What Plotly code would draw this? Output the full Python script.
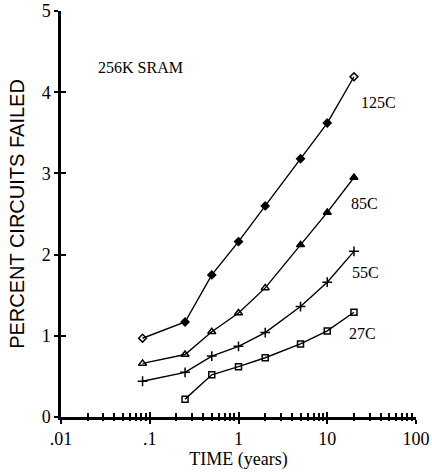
import math
import plotly.graph_objects as go

time_years = [0.083, 0.25, 0.5, 1, 2, 5, 10, 20]
fail_125c = [0.97, 1.17, 1.75, 2.16, 2.60, 3.18, 3.62, 4.19]
fail_85c = [0.66, 0.77, 1.05, 1.28, 1.59, 2.12, 2.52, 2.95]
fail_55c = [0.44, 0.55, 0.75, 0.87, 1.04, 1.36, 1.66, 2.04]
time_27c = [0.25, 0.5, 1, 2, 5, 10, 20]
fail_27c = [0.22, 0.52, 0.62, 0.73, 0.90, 1.06, 1.29]

xtick_vals = [0.01, 0.1, 1, 10, 100]
xtick_text = [".01", ".1", "1", "10", "100"]
ytick_vals = [0, 1, 2, 3, 4, 5]
minor_vals = [m * d for d in [0.01, 0.1, 1, 10] for m in range(2, 10)]

series_labels = ["125C", "85C", "55C", "27C"]
label_pos = [(22.5, 3.87), (17.6, 2.63), (18.0, 1.78), (16.7, 1.03)]

SERIF = "Liberation Serif, Times New Roman, serif"
SANS = "Liberation Sans, Arial, sans-serif"

fig = go.Figure()
line = dict(color="black", width=1.4)

fig.add_trace(go.Scatter(
    x=time_years, y=fail_125c, mode="lines+markers", line=line,
    marker=dict(symbol=["diamond-open"] + ["diamond"] * 6 + ["diamond-open"],
                size=6, color="black", line=dict(color="black", width=1.5)),
    showlegend=False))
fig.add_trace(go.Scatter(
    x=time_years, y=fail_85c, mode="lines+markers", line=line,
    marker=dict(symbol=["triangle-up-open"] * 5 + ["triangle-up"] * 3,
                size=7, color="black", line=dict(color="black", width=1.5)),
    showlegend=False))
fig.add_trace(go.Scatter(
    x=time_years, y=fail_55c, mode="lines+markers", line=line,
    marker=dict(symbol="cross-thin", size=7, color="black",
                line=dict(color="black", width=1.5)),
    showlegend=False))
fig.add_trace(go.Scatter(
    x=time_27c, y=fail_27c, mode="lines+markers", line=line,
    marker=dict(symbol="square-open", size=6, color="black",
                line=dict(color="black", width=1.5)),
    showlegend=False))

# invisible traces to activate overlay axes (crossing ticks)
for xa, ya in [("x2", "y2"), ("x3", "y"), ("x4", "y")]:
    fig.add_trace(go.Scatter(x=[1], y=[1], xaxis=xa, yaxis=ya, mode="markers",
                             marker=dict(opacity=0), showlegend=False, hoverinfo="skip"))

for lab, (lx, ly) in zip(series_labels, label_pos):
    fig.add_annotation(x=math.log10(lx), y=ly, text=lab, showarrow=False,
                       xanchor="left", yanchor="middle",
                       font=dict(family=SERIF, size=16, color="black"))

fig.add_annotation(x=math.log10(0.0248), y=4.31, text="256K SRAM", showarrow=False,
                   xanchor="left", yanchor="middle",
                   font=dict(family=SERIF, size=16, color="black"))

common_x = dict(type="log", range=[-2, 2], showgrid=False, zeroline=False,
                automargin=False, tickcolor="black")

fig.update_layout(
    width=432, height=474,
    margin=dict(l=61, r=16, t=11, b=57),
    paper_bgcolor="white", plot_bgcolor="white",
    xaxis=dict(**common_x, showline=True, linecolor="black", linewidth=2.5,
               ticks="outside", ticklen=4, tickwidth=2,
               tickvals=xtick_vals, ticktext=xtick_text,
               tickfont=dict(family=SERIF, size=18, color="black"),
               title=dict(text="TIME (years)", font=dict(family=SERIF, size=18, color="black"),
                          standoff=4)),
    xaxis2=dict(**common_x, overlaying="x", anchor="y", side="bottom", showline=False,
                ticks="inside", ticklen=5, tickwidth=2, tickvals=xtick_vals,
                showticklabels=False),
    xaxis3=dict(**common_x, overlaying="x", anchor="y", side="bottom", showline=False,
                ticks="outside", ticklen=3, tickwidth=1.5, tickvals=minor_vals,
                showticklabels=False),
    xaxis4=dict(**common_x, overlaying="x", anchor="y", side="bottom", showline=False,
                ticks="inside", ticklen=4, tickwidth=1.5, tickvals=minor_vals,
                showticklabels=False),
    yaxis=dict(range=[0, 5], showline=True, linecolor="black", linewidth=2.5,
               showgrid=False, zeroline=False, automargin=False,
               ticks="outside", ticklen=4, tickwidth=2,
               tickcolor="black", tickvals=ytick_vals,
               tickfont=dict(family=SERIF, size=18, color="black"),
               title=dict(text="PERCENT CIRCUITS FAILED",
                          font=dict(family=SANS, size=20, color="black"), standoff=12)),
    yaxis2=dict(range=[0, 5], overlaying="y", anchor="x", side="left", automargin=False,
                showline=False, showgrid=False, zeroline=False, ticks="inside", ticklen=5,
                tickwidth=2, tickcolor="black", tickvals=ytick_vals, showticklabels=False),
)

fig.write_html("out.html")
